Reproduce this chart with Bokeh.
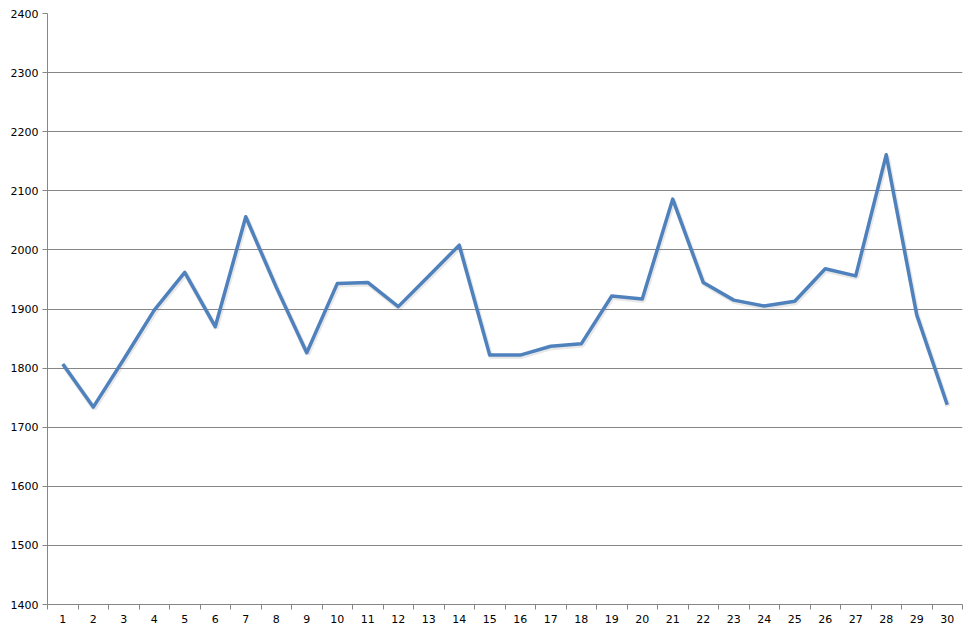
from bokeh.plotting import figure
from bokeh.models import Range1d, FixedTicker
from bokeh.embed import file_html
from bokeh.resources import INLINE

days = list(range(1, 31))
values = [1807, 1734, 1815, 1898, 1962, 1870, 2056, 1937, 1826, 1943,
          1945, 1904, 1956, 2008, 1822, 1822, 1837, 1841, 1922, 1917,
          2086, 1945, 1915, 1905, 1913, 1968, 1956, 2161, 1890, 1738]
y_ticks = list(range(1400, 2401, 100))

p = figure(width=968, height=625, output_backend="svg", toolbar_location=None,
           x_range=Range1d(0.5, 30.5), y_range=Range1d(1400, 2400),
           min_border_left=47, min_border_right=6, min_border_top=13, min_border_bottom=10)
p.outline_line_color = None
p.background_fill_color = "white"
p.border_fill_color = "white"

# shadow
shadow_vals = [v - 2.5 for v in values]
p.line([d + 0.03 for d in days], shadow_vals, line_color="#7f7f7f", line_width=5, line_alpha=0.18)
p.line(days, values, line_color="#4F81BD", line_width=3.5, line_join="round")

p.xgrid.visible = False
p.ygrid.grid_line_color = "#868686"
p.ygrid.grid_line_width = 1
p.ygrid.ticker = FixedTicker(ticks=y_ticks)

xa = p.xaxis[0]
xa.ticker = FixedTicker(ticks=days, minor_ticks=[d + 0.5 for d in range(0, 31)])
xa.major_tick_line_color = None
xa.minor_tick_line_color = "#868686"
xa.minor_tick_out = 5
xa.minor_tick_in = 0
xa.axis_line_color = "#868686"
xa.major_label_text_font = "DejaVu Sans"
xa.major_label_text_font_size = "11px"
xa.major_label_text_color = "black"
xa.major_label_standoff = 4

ya = p.yaxis[0]
ya.ticker = FixedTicker(ticks=y_ticks)
ya.minor_tick_line_color = None
ya.major_tick_line_color = "#868686"
ya.major_tick_out = 5
ya.major_tick_in = 0
ya.axis_line_color = "#868686"
ya.major_label_text_font = "DejaVu Sans"
ya.major_label_text_font_size = "11px"
ya.major_label_text_color = "black"
ya.major_label_standoff = 4

open("out.html", "w").write(file_html(p, INLINE))
